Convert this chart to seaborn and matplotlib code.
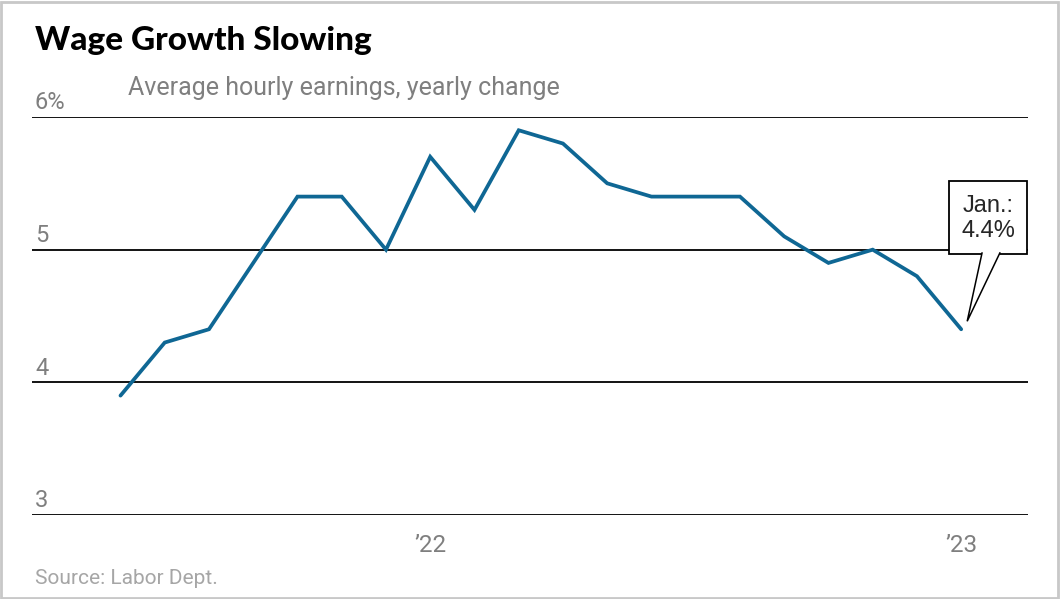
import pandas as pd
import matplotlib
matplotlib.use("Agg")
import matplotlib.pyplot as plt
import matplotlib.transforms as mtransforms
import seaborn as sns
from matplotlib.patches import Rectangle, Polygon

# monthly data, Jun 2021 - Jan 2023 (month 0 = Jan 2022)
months = list(range(-7, 13))
wage_growth = [3.9, 4.3, 4.4, 4.9, 5.4, 5.4, 5.0, 5.7, 5.3, 5.9,
               5.8, 5.5, 5.4, 5.4, 5.4, 5.1, 4.9, 5.0, 4.8, 4.4]
y_ticks = [3, 4, 5, 6]
y_labels = ["3", "4", "5", "6%"]
x_ticks = [0, 12]
x_labels = ["\u201922", "\u201923"]

df = pd.DataFrame({"month": months, "pct": wage_growth})

sns.set_theme(style="white")
plt.rcParams["font.family"] = ["Roboto", "DejaVu Sans"]

fig = plt.figure(figsize=(10.6, 5.99), dpi=100)
ax = fig.add_axes([32 / 1060, 1 - 515 / 599, 996 / 1060, 398 / 599])

for y in y_ticks:
    ax.axhline(y, color="black", lw=1.3, zorder=1)

sns.lineplot(data=df, x="month", y="pct", color="#0f6794", lw=2.7,
             ax=ax, zorder=3, solid_joinstyle="miter")

ax.set_xlim(-9.0, 13.51)
ax.set_ylim(3, 6)
ax.set_xticks([])
ax.set_yticks([])
ax.set_xlabel("")
ax.set_ylabel("")
for s in ax.spines.values():
    s.set_visible(False)

grey = "#7f7f7f"
for y, lab in zip(y_ticks, y_labels):
    ax.text(0.003, y + 0.02, lab, transform=ax.get_yaxis_transform(),
            ha="left", va="bottom", fontsize=17, color=grey)

for x, lab in zip(x_ticks, x_labels):
    ax.text(x, 2.72, lab, ha="center", va="baseline", fontsize=17.5,
            color=grey, clip_on=False)

# callout anchored to the last point (offsets in pixels)
last_xy = ax.transData.transform((months[-1], wage_growth[-1]))
off = mtransforms.Affine2D().translate(*last_xy)
ax.add_patch(Rectangle((-12, 75), 78, 73, transform=off, fc="white",
                       ec="black", lw=1.3, zorder=5, clip_on=False))
ax.add_patch(Polygon([(21, 77), (6, 8), (39, 77)], closed=False,
                     transform=off, fc="white", ec="black", lw=1.1,
                     zorder=6, clip_on=False))
ax.annotate("Jan.:\n4.4%", xy=(months[-1], wage_growth[-1]),
            xytext=(27 * 0.72, 111 * 0.72), textcoords="offset points",
            ha="center", va="center", fontsize=17, family="Liberation Sans",
            linespacing=1.2, zorder=7)

fig.text(35 / 1060, 1 - 50 / 599, "Wage Growth Slowing", fontsize=24,
         fontweight="black", family=["Lato", "DejaVu Sans"], color="black")
fig.text(128 / 1060, 1 - 95 / 599, "Average hourly earnings, yearly change",
         fontsize=18, color=grey)
fig.text(35 / 1060, 1 - 584 / 599, "Source: Labor Dept.", fontsize=15,
         color="#a6a6a6")

fig.patches.append(Rectangle((0.001, 0.002), 0.997, 0.995, transform=fig.transFigure,
                             fill=False, ec="#c8c8c8", lw=2))

fig.savefig("out.png", dpi=100)
